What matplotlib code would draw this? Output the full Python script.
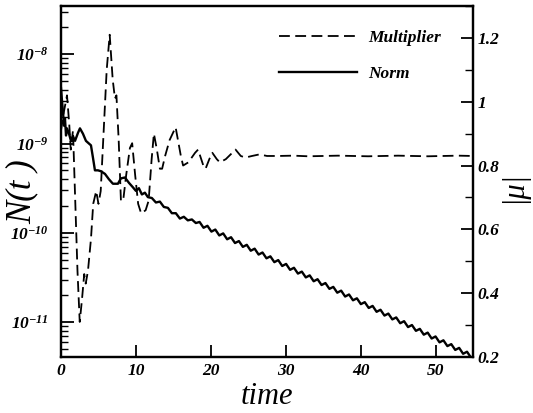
import matplotlib
matplotlib.use("Agg")
import matplotlib.pyplot as plt
import numpy as np
from matplotlib.ticker import MultipleLocator, NullLocator, LogLocator, FuncFormatter, NullFormatter

plt.rcParams['font.family'] = 'Liberation Serif'
plt.rcParams['font.weight'] = 'bold'
plt.rcParams['font.style'] = 'italic'
plt.rcParams['mathtext.fontset'] = 'custom'
plt.rcParams['mathtext.rm'] = 'Liberation Serif:bold:italic'
plt.rcParams['mathtext.it'] = 'Liberation Serif:bold:italic'
plt.rcParams['mathtext.bf'] = 'Liberation Serif:bold:italic'

# ---- data: Norm N(t) (log10 values) ----
norm_t = [0.0, 0.13, 0.27, 0.4, 0.53, 0.67, 0.8, 1.07, 1.33, 1.6, 1.87, 2.27, 2.53, 2.93,
          3.33, 3.73, 4.0, 4.27, 4.53, 4.93, 5.33, 5.87, 6.4, 6.93, 7.6, 8.0, 8.53, 9.07,
          9.6, 10.0, 10.4, 10.8, 11.2, 11.6, 12.13, 12.67, 13.2, 13.73, 14.27, 14.8, 15.33,
          15.87, 16.4, 16.93, 17.47, 18.0,
          18.50, 19.03, 19.55, 20.08, 20.60, 21.13, 21.65, 22.18, 22.70, 23.23, 23.75, 24.28,
          24.80, 25.33, 25.85, 26.38, 26.90, 27.43, 27.95, 28.48, 29.00, 29.53, 30.05, 30.58,
          31.10, 31.63, 32.15, 32.68, 33.20, 33.73, 34.25, 34.78, 35.30, 35.83, 36.35, 36.88,
          37.40, 37.93, 38.45, 38.98, 39.50, 40.03, 40.55, 41.08, 41.60, 42.13, 42.65, 43.18,
          43.70, 44.23, 44.75, 45.28, 45.80, 46.33, 46.85, 47.38, 47.90, 48.43, 48.95, 49.48,
          50.00, 50.53, 51.05, 51.58, 52.10, 52.63, 53.15, 53.68, 54.20, 54.73, 55.0]
norm_exp = [-8.38, -8.52, -8.65, -8.80, -8.72, -8.91, -8.83, -8.89, -8.97, -8.92, -8.97, -8.88,
            -8.83, -8.89, -8.97, -9.00, -9.02, -9.16, -9.30, -9.30, -9.31, -9.34, -9.40, -9.45,
            -9.45, -9.39, -9.38, -9.44, -9.49, -9.53, -9.50, -9.57, -9.55, -9.60, -9.61, -9.66,
            -9.65, -9.71, -9.72, -9.78, -9.78, -9.84, -9.82, -9.86, -9.85, -9.89,
            -9.878, -9.943, -9.921, -9.986, -9.963, -10.029, -10.006, -10.072, -10.049, -10.114,
            -10.092, -10.157, -10.134, -10.200, -10.177, -10.243, -10.220, -10.285, -10.263,
            -10.328, -10.305, -10.371, -10.348, -10.414, -10.391, -10.456, -10.434, -10.499,
            -10.476, -10.542, -10.519, -10.584, -10.562, -10.627, -10.605, -10.670, -10.647,
            -10.713, -10.690, -10.755, -10.733, -10.798, -10.776, -10.841, -10.818, -10.884,
            -10.861, -10.926, -10.904, -10.969, -10.947, -11.012, -10.989, -11.055, -11.032,
            -11.097, -11.075, -11.140, -11.117, -11.183, -11.160, -11.226, -11.203, -11.268,
            -11.246, -11.311, -11.288, -11.354, -11.331, -11.396, -11.390]

# ---- data: Multiplier |mu| ----
mult_t = [0.0, 0.4, 0.8, 1.1, 1.3, 1.6, 1.9, 2.2, 2.5, 2.8, 3.1, 3.3, 3.6, 4.0, 4.3, 4.7,
          5.0, 5.3, 5.7, 6.1, 6.5, 6.9, 7.2, 7.4, 7.7, 8.0, 8.3, 8.7, 9.2, 9.5, 9.9, 10.3,
          10.7, 11.3, 11.7, 12.1, 12.4, 12.8, 13.2, 13.5, 13.9, 14.5, 15.3, 16.0, 16.3, 17.0,
          17.9, 18.3, 19.0, 19.3, 19.8, 20.2, 20.8, 21.2, 22.0, 23.3, 24.0, 24.6, 25.5, 26.5,
          27.5, 29.0, 31.0, 33.0, 35.0, 37.0, 39.0, 41.0, 43.0, 45.0, 47.0, 49.0, 51.0, 53.0, 55.0]
mult_v = [0.91, 0.97, 1.02, 0.93, 0.85, 0.91, 0.69, 0.47, 0.31, 0.38, 0.46, 0.43, 0.47, 0.57,
          0.68, 0.72, 0.68, 0.72, 0.91, 1.10, 1.21, 1.07, 1.01, 1.02, 0.88, 0.69, 0.69, 0.77,
          0.855, 0.87, 0.77, 0.68, 0.65, 0.66, 0.69, 0.82, 0.90, 0.85, 0.79, 0.79, 0.83, 0.88,
          0.92, 0.83, 0.80, 0.81, 0.84, 0.85, 0.80, 0.79, 0.82, 0.84, 0.82, 0.81, 0.82, 0.85,
          0.83, 0.825, 0.83, 0.835, 0.83, 0.83, 0.831, 0.829, 0.83, 0.831, 0.83, 0.829, 0.83,
          0.831, 0.83, 0.829, 0.83, 0.831, 0.83]

x_ticks = [0, 10, 20, 30, 40, 50]
legend_labels = ['Multiplier', 'Norm']

fig = plt.figure(figsize=(5.33, 4.13), dpi=100)
ax = fig.add_axes([61/533, 1 - 357/413, 412/533, 351/413])
ax2 = ax.twinx()

norm_vals = [10.0 ** e for e in norm_exp]
l_norm, = ax.plot(norm_t, norm_vals, color='black', lw=1.7, solid_joinstyle='round')
l_mult, = ax2.plot(mult_t, mult_v, color='black', lw=1.3, dashes=(6, 3))

ax.set_yscale('log')
ax.set_xlim(0, 55)
ax.set_ylim(10 ** -11.39, 10 ** -7.46)
ax2.set_ylim(0.2, 1.3)

ax.set_xticks(x_ticks)
ax.xaxis.set_minor_locator(NullLocator())
ax.yaxis.set_major_locator(LogLocator(base=10))
ax.yaxis.set_minor_locator(LogLocator(base=10, subs=np.arange(2, 10)))
ax.yaxis.set_minor_formatter(NullFormatter())
ax.yaxis.set_major_formatter(FuncFormatter(lambda v, p: r'$10^{%d}$' % int(round(np.log10(v)))))
ax2.yaxis.set_major_locator(MultipleLocator(0.2))
ax2.yaxis.set_minor_locator(MultipleLocator(0.1))
ax2.yaxis.set_major_formatter(FuncFormatter(lambda v, p: '%g' % round(v, 3)))

ax.tick_params(axis='both', which='both', direction='in', top=False, right=False)
ax.tick_params(axis='both', which='major', length=9, width=1.3, labelsize=12.5)
ax.tick_params(axis='y', which='minor', length=5, width=1.0)
ax.tick_params(axis='y', which='major', pad=9)
ax.tick_params(axis='x', which='major', pad=4)
ax2.tick_params(axis='y', which='both', direction='in', right=True, left=False)
ax2.tick_params(axis='y', which='major', length=9, width=1.3, labelsize=12.5, pad=3)
ax2.tick_params(axis='y', which='minor', length=6, width=1.0)

for a in (ax, ax2):
    for s in a.spines.values():
        s.set_linewidth(1.6)

ax.set_xlabel('time', fontsize=22)
ax.xaxis.set_label_coords(0.5, -0.07)
ax.set_ylabel('N(t )', fontsize=25)
ax.yaxis.set_label_coords(-0.055, 0.47)
ax2.set_ylabel('|μ|', fontsize=22, rotation=90)
ax2.yaxis.set_label_coords(1.062, 0.484)

ax2.legend([l_mult, l_norm], legend_labels, loc='upper left',
           bbox_to_anchor=(279/533, 1 - 30/413), bbox_transform=fig.transFigure,
           frameon=False, handlelength=4.5, handletextpad=0.63, labelspacing=1.15,
           borderpad=0, borderaxespad=0, fontsize=12.5)

fig.savefig('out.png', dpi=100)
